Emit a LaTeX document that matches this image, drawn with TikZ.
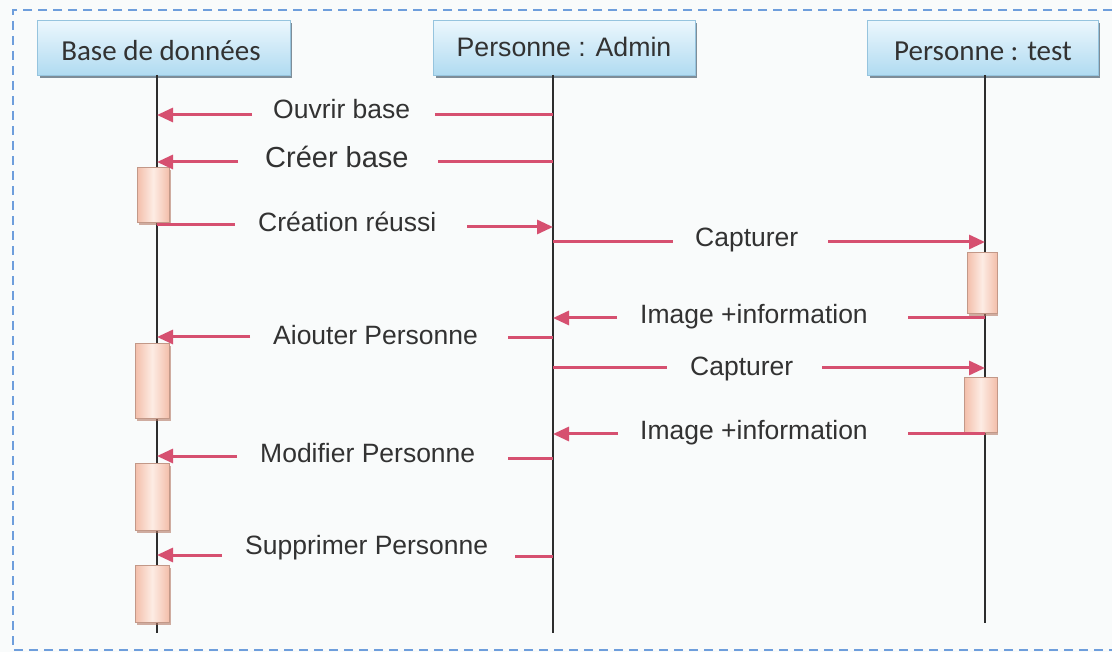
\documentclass[tikz,border=0pt]{standalone}
\usepackage{fontspec}
\setmainfont{Liberation Sans}
\newfontfamily\carlitofont{Carlito}
\usetikzlibrary{arrows.meta}
\definecolor{bgc}{RGB}{249,251,251}
\definecolor{framec}{RGB}{110,158,220}
\definecolor{msgc}{RGB}{214,80,112}
\definecolor{txtc}{RGB}{50,50,50}
\definecolor{lifec}{RGB}{45,45,45}
\definecolor{headtop}{RGB}{236,247,253}
\definecolor{headbot}{RGB}{176,219,241}
\definecolor{headbd}{RGB}{150,196,222}
\definecolor{headsh}{RGB}{85,105,120}
\definecolor{actD}{RGB}{243,190,170}
\definecolor{actL}{RGB}{253,236,228}
\definecolor{actsh}{RGB}{180,120,100}
\tikzset{
  headbox/.style={draw=headbd, line width=0.8pt, top color=headtop, bottom color=headbot},
  headshadow/.style={fill=headsh, draw=none, opacity=0.75},
  actbox/.style={draw=actD!80!black, line width=0.4pt, left color=actD, right color=actD, middle color=actL},
  actshadow/.style={fill=actsh, draw=none, opacity=0.6},
  lifeline/.style={draw=lifec, line width=2pt},
  msgline/.style={draw=msgc, line width=3pt},
  msgarrow/.style={msgline, -{Triangle[length=16pt,width=14pt]}},
  lbl/.style={anchor=base west, inner sep=0pt, text=txtc, font=\fontsize{26.5}{30}\selectfont},
  headtxt/.style={anchor=base, inner sep=0pt, text=txtc},
}
\begin{document}
\begin{tikzpicture}[x=1pt,y=-1pt]
\useasboundingbox (0,0) rectangle (1112,652);
\fill[bgc] (0,0) rectangle (1112,652);
% frame (right side lies outside the picture)
\draw[framec, line width=1.8pt, dash pattern=on 9pt off 6pt] (1112,10) -- (13,10) -- (13,650) -- (1112,650);

% header boxes
\fill[headshadow] (40,23) rectangle (292,78);
\node[headbox, minimum width=253pt, minimum height=55pt, anchor=north west, inner sep=0pt] (bd) at (37,20) {};
\node[headtxt, font=\carlitofont\fontsize{29}{32}\selectfont] (bdt) at (161,61) {Base de données};

\fill[headshadow] (436,23) rectangle (697,78);
\node[headbox, minimum width=262pt, minimum height=55pt, anchor=north west, inner sep=0pt] (ad) at (433,20) {};
\node[headtxt, font=\fontsize{26.7}{30}\selectfont] (adt) at (564,57) {Personne : Admin};

\fill[headshadow] (870,23) rectangle (1100,78);
\node[headbox, minimum width=231pt, minimum height=55pt, anchor=north west, inner sep=0pt] (ts) at (867,20) {};
\node[headtxt, font=\carlitofont\fontsize{29}{32}\selectfont] (tst) at (983,61) {Personne : test};

% lifelines
\coordinate (bdTop) at (157,75);  \coordinate (bdBot) at (157,633);
\coordinate (adTop) at (553,75);  \coordinate (adBot) at (553,633);
\coordinate (tsTop) at (985,75);  \coordinate (tsBot) at (985,623);
\draw[lifeline] (bdTop) -- (bdBot);
\draw[lifeline] (adTop) -- (adBot);
\draw[lifeline] (tsTop) -- (tsBot);

% activation boxes
\fill[actshadow] (139,170) rectangle (171,225);
\node[actbox, anchor=north west, minimum width=32pt, minimum height=55pt, inner sep=0pt] (a1) at (137,167) {};
\fill[actshadow] (137,346) rectangle (171,421);
\node[actbox, anchor=north west, minimum width=34pt, minimum height=75pt, inner sep=0pt] (a2) at (135,343) {};
\fill[actshadow] (137,466) rectangle (171,533);
\node[actbox, anchor=north west, minimum width=34pt, minimum height=67pt, inner sep=0pt] (a3) at (135,463) {};
\fill[actshadow] (137,568) rectangle (171,625);
\node[actbox, anchor=north west, minimum width=34pt, minimum height=57pt, inner sep=0pt] (a4) at (135,565) {};
\fill[actshadow] (969,255) rectangle (998,316);
\node[actbox, anchor=north west, minimum width=30pt, minimum height=61pt, inner sep=0pt] (a5) at (967,252) {};
\fill[actshadow] (966,380) rectangle (998,435);
\node[actbox, anchor=north west, minimum width=33pt, minimum height=55pt, inner sep=0pt] (a6) at (964,377) {};

% messages
% 1 Ouvrir base
\node[lbl] (l1) at (273,119) {Ouvrir base};
\coordinate (m1a) at (252,115); \coordinate (m1b) at (157,115);
\coordinate (m1c) at (435,115); \coordinate (m1d) at (553,115);
\draw[msgarrow] (m1a) -- (m1b);
\draw[msgline] (m1c) -- (m1d);
% 2 Creer base
\node[lbl, font=\fontsize{29}{32}\selectfont] (l2) at (265,168) {Créer base};
\coordinate (m2a) at (238,162); \coordinate (m2b) at (157,162);
\coordinate (m2c) at (438,162); \coordinate (m2d) at (553,162);
\draw[msgarrow] (m2a) -- (m2b);
\draw[msgline] (m2c) -- (m2d);
% 3 Creation reussi
\node[lbl] (l3) at (258,232) {Création réussi};
\coordinate (m3a) at (157,225); \coordinate (m3b) at (235,225);
\coordinate (m3c) at (467,227); \coordinate (m3d) at (553,227);
\draw[msgline] (m3a) -- (m3b);
\draw[msgarrow] (m3c) -- (m3d);
% 4 Capturer
\node[lbl] (l4) at (695,247) {Capturer};
\coordinate (m4a) at (553,242); \coordinate (m4b) at (673,242);
\coordinate (m4c) at (828,242); \coordinate (m4d) at (985,242);
\draw[msgline] (m4a) -- (m4b);
\draw[msgarrow] (m4c) -- (m4d);
% 5 Image +information
\node[lbl] (l5) at (640,324) {Image +information};
\coordinate (m5a) at (617,318); \coordinate (m5b) at (553,318);
\coordinate (m5c) at (908,318); \coordinate (m5d) at (985,318);
\draw[msgarrow] (m5a) -- (m5b);
\draw[msgline] (m5c) -- (m5d);
% 6 Aiouter Personne
\node[lbl] (l6) at (273,345) {Aiouter Personne};
\coordinate (m6a) at (250,337); \coordinate (m6b) at (157,337);
\coordinate (m6c) at (508,338); \coordinate (m6d) at (553,338);
\draw[msgarrow] (m6a) -- (m6b);
\draw[msgline] (m6c) -- (m6d);
% 7 Capturer
\node[lbl] (l7) at (690,376) {Capturer};
\coordinate (m7a) at (553,368); \coordinate (m7b) at (667,368);
\coordinate (m7c) at (822,368); \coordinate (m7d) at (985,368);
\draw[msgline] (m7a) -- (m7b);
\draw[msgarrow] (m7c) -- (m7d);
% 8 Image +information
\node[lbl] (l8) at (640,439) {Image +information};
\coordinate (m8a) at (618,434); \coordinate (m8b) at (553,434);
\coordinate (m8c) at (908,434); \coordinate (m8d) at (985,434);
\draw[msgarrow] (m8a) -- (m8b);
\draw[msgline] (m8c) -- (m8d);
% 9 Modifier Personne
\node[lbl] (l9) at (260,462) {Modifier Personne};
\coordinate (m9a) at (237,456); \coordinate (m9b) at (157,456);
\coordinate (m9c) at (508,458); \coordinate (m9d) at (553,458);
\draw[msgarrow] (m9a) -- (m9b);
\draw[msgline] (m9c) -- (m9d);
% 10 Supprimer Personne
\node[lbl] (l10) at (245,554) {Supprimer Personne};
\coordinate (m10a) at (222,555); \coordinate (m10b) at (157,555);
\coordinate (m10c) at (515,556); \coordinate (m10d) at (553,556);
\draw[msgarrow] (m10a) -- (m10b);
\draw[msgline] (m10c) -- (m10d);
\end{tikzpicture}
\end{document}
